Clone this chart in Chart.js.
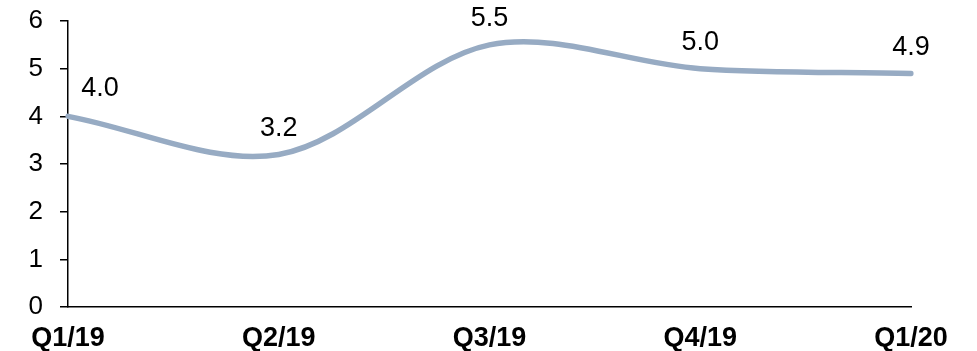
<!DOCTYPE html>
<html>
<head>
<meta charset="utf-8">
<script src="https://cdn.jsdelivr.net/npm/chart.js@4/dist/chart.umd.min.js"></script>
<style>
  html, body { margin: 0; padding: 0; background: #fff; }
  #wrap { width: 977px; height: 351px; position: relative; }
</style>
</head>
<body>
<div id="wrap"><canvas id="c" width="977" height="351"></canvas></div>
<script>
// Quarterly values
const quarters = ['Q1/19', 'Q2/19', 'Q3/19', 'Q4/19', 'Q1/20'];
const values = [4.0, 3.2, 5.5, 5.0, 4.9];
const yTicks = [0, 1, 2, 3, 4, 5, 6];

const FONT = '"Liberation Sans", Arial, sans-serif';

// Value labels above each point; the first one is nudged right off the axis
const valueLabels = {
  id: 'valueLabels',
  afterDatasetsDraw(chart) {
    const meta = chart.getDatasetMeta(0);
    const ctx = chart.ctx;
    ctx.save();
    ctx.font = '27px ' + FONT;
    ctx.fillStyle = '#000';
    ctx.textAlign = 'center';
    ctx.textBaseline = 'middle';
    meta.data.forEach((pt, i) => {
      const dx = i === 0 ? 32 : 0;
      const dy = i === 0 ? -28 : -26;
      ctx.fillText(values[i].toFixed(1), pt.x + dx, pt.y + dy);
    });
    ctx.restore();
  }
};

new Chart(document.getElementById('c'), {
  type: 'line',
  data: {
    labels: quarters,
    datasets: [{
      data: values,
      borderColor: '#97abc3',
      borderWidth: 5.5,
      borderCapStyle: 'round',
      tension: 0.33,
      pointRadius: 0,
      fill: false
    }]
  },
  options: {
    responsive: false,
    animation: false,
    layout: { padding: { left: 0, right: 66, top: 21, bottom: 0 } },
    plugins: { legend: { display: false }, tooltip: { enabled: false } },
    scales: {
      x: {
        offset: false,
        border: { display: true, color: '#000', width: 1.5 },
        grid: { display: false, drawTicks: false },
        ticks: {
          color: '#000',
          font: { family: FONT, size: 27, weight: 'bold' },
          padding: 15,
          maxRotation: 0,
          autoSkip: false
        },
        afterFit(scale) {
          scale.height = 44;
          scale.paddingLeft = 0;
          scale.paddingRight = 0;
        }
      },
      y: {
        min: 0,
        max: 6,
        border: { display: true, color: '#000', width: 1.5 },
        grid: { drawOnChartArea: false, drawTicks: true, tickLength: 8, color: '#000', lineWidth: 1.5 },
        afterBuildTicks(scale) { scale.ticks = yTicks.map(v => ({ value: v })); },
        ticks: {
          color: '#000',
          font: { family: FONT, size: 26 },
          padding: 17
        },
        afterFit(scale) {
          scale.width = 68;
          scale.paddingTop = 0;
          scale.paddingBottom = 0;
        }
      }
    }
  },
  plugins: [valueLabels]
});
</script>
</body>
</html>
